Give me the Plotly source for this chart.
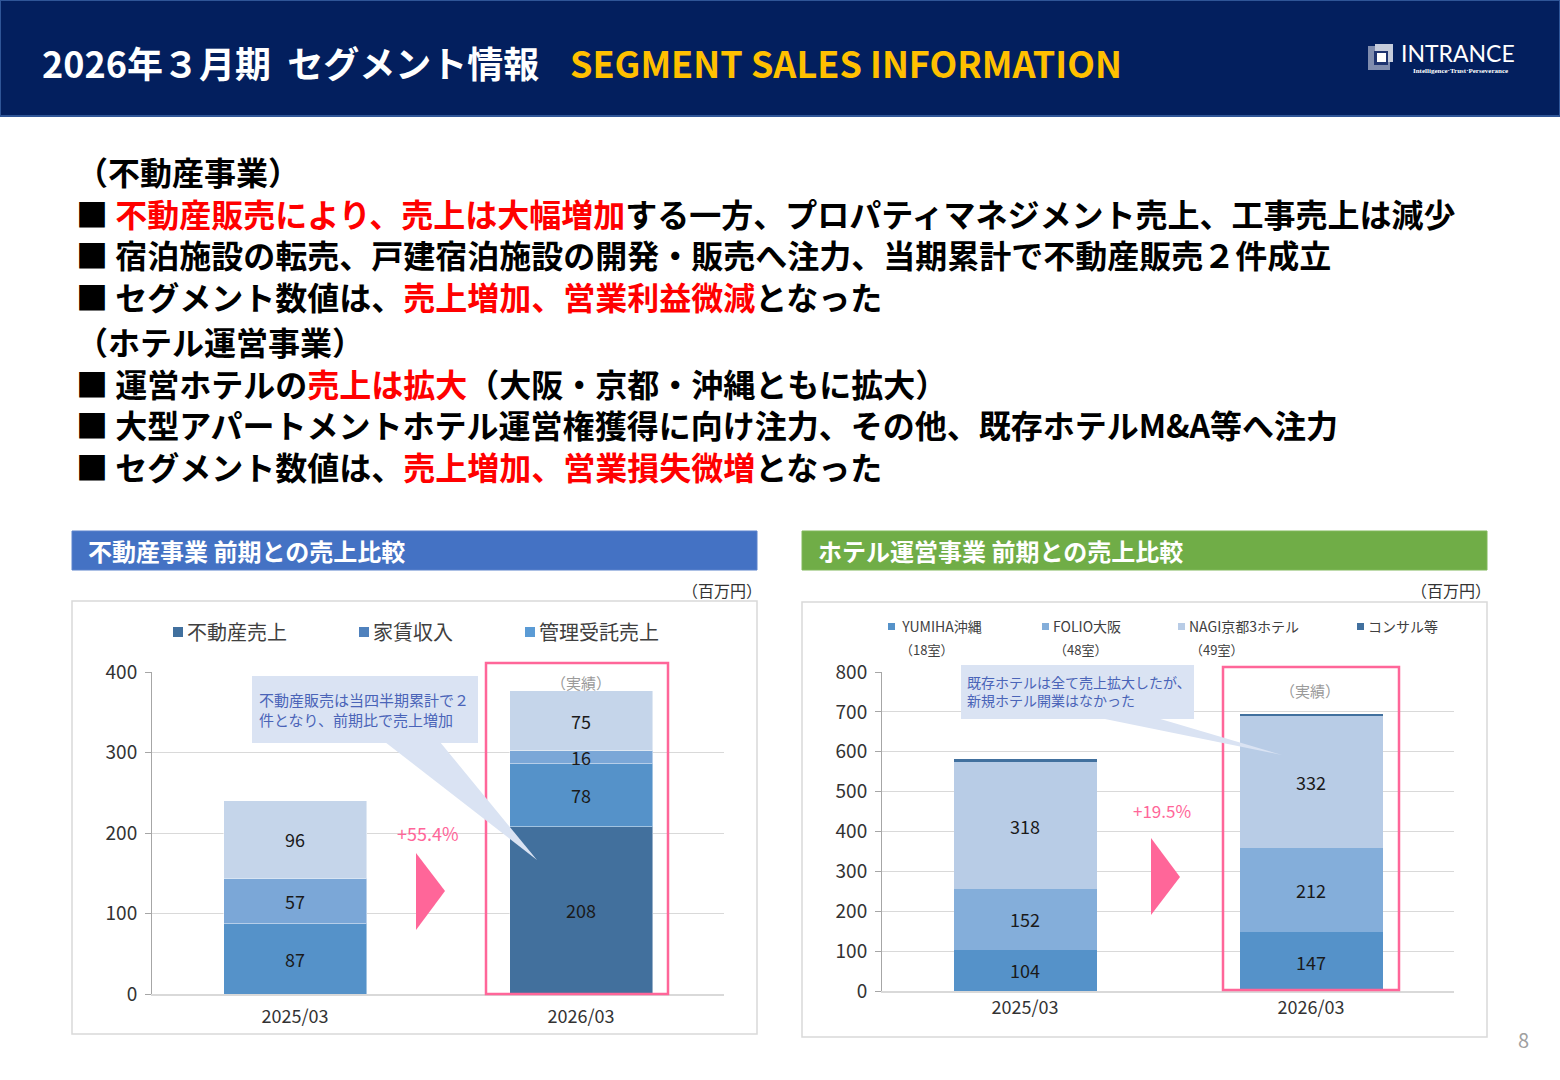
import plotly.graph_objects as go

# ---------------- data ----------------
categories = ["2025/03", "2026/03"]

# 不動産事業 (百万円)
re_sales = [0, 208]      # 不動産売上
re_rent = [87, 78]       # 家賃収入
re_mgmt = [57, 16]       # 管理受託売上
re_other = [96, 75]      # その他（凡例なし）
re_growth = "+55.4%"

# ホテル運営事業 (百万円)
ht_yumiha = [104, 147]   # YUMIHA沖縄
ht_folio = [152, 212]    # FOLIO大阪
ht_nagi = [318, 332]     # NAGI京都3ホテル
ht_consul = [8, 3]       # コンサル等
ht_growth = "+19.5%"

re_legend = ["不動産売上", "家賃収入", "管理受託売上"]
ht_legend = [" YUMIHA沖縄", "FOLIO大阪", "NAGI京都3ホテル", "コンサル等"]
ht_rooms = ["（18室）", "（48室）", "（49室）"]

# ---------------- helpers ----------------
W, H = 1560, 1080
FONT = "Noto Sans CJK JP"


def X(p):
    return p / W


def Y(p):
    return 1 - p / H


fig = go.Figure()

seg_line = dict(color="rgba(255,255,255,0.45)", width=1)

left_series = [
    ("不動産売上", re_sales, "#42709D"),
    ("家賃収入", re_rent, "#5592C9"),
    ("管理受託売上", re_mgmt, "#7BA7D7"),
    ("その他", re_other, "#C5D5EA"),
]
for name, vals, color in left_series:
    fig.add_bar(
        x=categories, y=vals, name=name, width=0.5,
        marker=dict(color=color, line=seg_line),
        text=[str(v) if v > 0 else "" for v in vals],
        textposition="inside", insidetextanchor="middle", textangle=0,
        textfont=dict(size=18, color="#1a1a1a", family=FONT),
        xaxis="x", yaxis="y", showlegend=False, hoverinfo="skip",
    )

right_series = [
    ("YUMIHA沖縄", ht_yumiha, "#5592C9", True),
    ("FOLIO大阪", ht_folio, "#84AEDA", True),
    ("NAGI京都3ホテル", ht_nagi, "#B8CCE6", True),
    ("コンサル等", ht_consul, "#41709E", False),
]
for name, vals, color, lab in right_series:
    fig.add_bar(
        x=categories, y=vals, name=name, width=0.5,
        marker=dict(color=color, line=dict(width=0)),
        text=[str(v) for v in vals] if lab else None,
        textposition="inside", insidetextanchor="middle", textangle=0,
        textfont=dict(size=18, color="#1a1a1a", family=FONT),
        xaxis="x2", yaxis="y2", showlegend=False, hoverinfo="skip",
    )

axis_font = dict(family=FONT, size=19, color="#333333")
xfont = dict(family=FONT, size=18, color="#333333")

fig.update_layout(
    width=W, height=H,
    margin=dict(l=0, r=0, t=0, b=0, pad=0, autoexpand=False),
    paper_bgcolor="white", plot_bgcolor="white",
    barmode="stack", showlegend=False,
    uniformtext=dict(minsize=18, mode="show"),
    font=dict(family=FONT),
    xaxis=dict(domain=[X(152), X(724)], anchor="y", type="category",
               range=[-0.5, 1.5], showline=True, linecolor="#D9D9D9",
               linewidth=1.5, ticks="", tickfont=xfont, automargin=False,
               ticklabelstandoff=6),
    yaxis=dict(domain=[Y(994), Y(672)], anchor="x", range=[0, 400],
               dtick=100, showgrid=True, gridcolor="#D9D9D9",
               showline=True, linecolor="#A6A6A6", ticks="outside",
               ticklen=6, tickcolor="#A6A6A6", tickfont=axis_font,
               zeroline=False, automargin=False, ticklabelstandoff=4),
    xaxis2=dict(domain=[X(882), X(1454)], anchor="y2", type="category",
                range=[-0.5, 1.5], showline=True, linecolor="#D9D9D9",
                linewidth=1.5, ticks="", tickfont=xfont, automargin=False,
                ticklabelstandoff=0),
    yaxis2=dict(domain=[Y(991), Y(672)], anchor="x2", range=[0, 800],
                dtick=100, showgrid=True, gridcolor="#D9D9D9",
                showline=True, linecolor="#A6A6A6", ticks="outside",
                ticklen=6, tickcolor="#A6A6A6", tickfont=axis_font,
                zeroline=False, automargin=False, ticklabelstandoff=4),
)

shapes = []
ann = []


def rect(x0, y0, x1, y1, fill=None, line=None, lw=0, layer="above"):
    shapes.append(dict(type="rect", xref="paper", yref="paper",
                       x0=X(x0), x1=X(x1), y0=Y(y1), y1=Y(y0),
                       fillcolor=fill if fill else "rgba(0,0,0,0)",
                       line=dict(color=line if line else "rgba(0,0,0,0)", width=lw),
                       layer=layer))


def poly(pts, fill, layer="above"):
    d = "M " + " L ".join(f"{X(a):.5f},{Y(b):.5f}" for a, b in pts) + " Z"
    shapes.append(dict(type="path", xref="paper", yref="paper", path=d,
                       fillcolor=fill, line=dict(width=0), layer=layer))


def text(x, y, s, size, color="#000", xanchor="left", bold=False, family=FONT, yanchor="middle"):
    ann.append(dict(xref="paper", yref="paper", x=X(x), y=Y(y), text=s,
                    showarrow=False, xanchor=xanchor, yanchor=yanchor, align="left",
                    font=dict(family=family, size=size, color=color,
                              weight=700 if bold else 400)))


# ---------------- header ----------------
rect(0, 0, 1560, 116, fill="#031F5E", line="#2F5597", lw=2, layer="below")
text(40, 62, "2026年３月期\u00a0\u00a0セグメント情報", 36, "#FFFFFF", bold=True)
text(568, 62, "SEGMENT SALES INFORMATION", 36, "#FFC000", bold=True)

# logo
rect(1368, 46, 1390, 70, fill="#7F8CAE", layer="above")
rect(1375, 44, 1393, 62, fill="#C5CCDC", layer="above")
rect(1374, 51, 1388, 65, fill="#1F3470", layer="above")
rect(1377, 53, 1386, 62, fill="#FFFFFF", layer="above")
text(1399, 53, "INTRANCE", 23, "#FFFFFF", family="Lato")
text(1460, 71, "Intelligence·Trust·Perseverance", 7, "#FFFFFF",
     xanchor="center", bold=True, family="Liberation Serif")

# ---------------- body text ----------------
RED = "<span style='color:#FF0000'>{}</span>"
block1 = [
    "（不動産事業）",
    "■ " + RED.format("不動産販売により、売上は大幅増加") + "する一方、プロパティマネジメント売上、工事売上は減少",
    "■ 宿泊施設の転売、戸建宿泊施設の開発・販売へ注力、当期累計で不動産販売２件成立",
    "■ セグメント数値は、" + RED.format("売上増加、営業利益微減") + "となった",
]
block2 = [
    "（ホテル運営事業）",
    "■ 運営ホテルの" + RED.format("売上は拡大") + "（大阪・京都・沖縄ともに拡大）",
    "■ 大型アパートメントホテル運営権獲得に向け注力、その他、既存ホテルM&amp;A等へ注力",
    "■ セグメント数値は、" + RED.format("売上増加、営業損失微増") + "となった",
]
text(74, 233, "<br>".join(block1), 32, "#000000", bold=True)
text(74, 403, "<br>".join(block2), 32, "#000000", bold=True)

# ---------------- section headers ----------------
rect(72, 531, 757, 570, fill="#4472C4", line="#5B82CC", lw=1, layer="below")
text(86, 550, "不動産事業 前期との売上比較", 24, "#FFFFFF", bold=True)
rect(802, 531, 1487, 570, fill="#70AD47", line="#80B85A", lw=1, layer="below")
text(816, 550, "ホテル運営事業 前期との売上比較", 24, "#FFFFFF", bold=True)

text(764, 590, "（百万円）", 16, "#333333", xanchor="right")
text(1493, 590, "（百万円）", 16, "#333333", xanchor="right")

# chart frames
rect(72, 601, 757, 1034, line="#D9D9D9", lw=1.5, layer="below")
rect(802, 602, 1487, 1037, line="#D9D9D9", lw=1.5, layer="below")

# ---------------- left legend ----------------
left_leg_x = [173, 359, 525]
left_leg_c = ["#41709E", "#4F81BD", "#5B9BD5"]
for lab, lx, c in zip(re_legend, left_leg_x, left_leg_c):
    rect(lx, 627, lx + 10, 637, fill=c)
    text(lx + 12, 631, lab, 20, "#404040")

# ---------------- right legend ----------------
right_leg_x = [888, 1042, 1178, 1357]
right_leg_c = ["#5592C9", "#84AEDA", "#B8CCE6", "#41709E"]
for i, (lab, lx, c) in enumerate(zip(ht_legend, right_leg_x, right_leg_c)):
    rect(lx, 623, lx + 7, 630, fill=c)
    text(lx + 9, 626, lab, 14, "#404040")
    if i < len(ht_rooms):
        text(lx + 38, 649, ht_rooms[i], 13, "#404040", xanchor="center")

# ---------------- highlights & callouts ----------------
PINK = "#FF6699"
rect(486, 663, 668, 994, line=PINK, lw=2.5)
rect(1223, 667, 1399, 990, line=PINK, lw=2.5)
text(581, 682, "（実績）", 15, "#9A9A9A", xanchor="center")
text(1310, 690, "（実績）", 15, "#9A9A9A", xanchor="center")

# left callout
poly([(385, 742), (440, 742), (537, 860)], "#DAE3F3")
rect(252, 676, 478, 743, fill="#DAE3F3")
text(257, 709, "不動産販売は当四半期累計で２<br>件となり、前期比で売上増加", 15, "#4A64B8")

# right callout
poly([(1100, 718), (1157, 718), (1282, 755)], "#DAE3F3")
rect(961, 665, 1194, 719, fill="#DAE3F3")
text(965, 691, "既存ホテルは全て売上拡大したが、<br>新規ホテル開業はなかった", 14, "#4A64B8")

# growth arrows
poly([(416, 853), (445, 891), (416, 930)], PINK)
text(428, 833, re_growth, 18, PINK, xanchor="center")
poly([(1151, 838), (1180, 877), (1151, 915)], PINK)
text(1162, 810, ht_growth, 17, PINK, xanchor="center")

# page number
text(1523, 1039, "8", 20, "#A0A0A0", xanchor="center")

fig.update_layout(shapes=shapes, annotations=ann)
fig.write_html("out.html", config={"displayModeBar": False},
               post_script="document.body.style.margin='0';document.body.style.overflow='hidden';")
